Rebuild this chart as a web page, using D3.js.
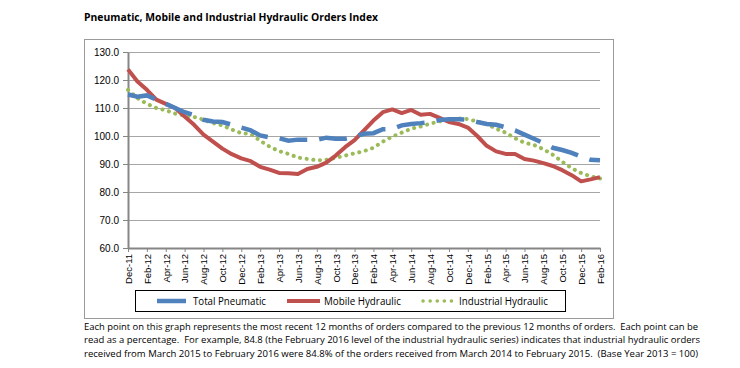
<!DOCTYPE html>
<html>
<head>
<meta charset="utf-8">
<script src="https://cdn.jsdelivr.net/npm/d3@7"></script>
<style>
  body { margin: 0; background: #fff; }
  svg { display: block; font-family: "Open Sans", "Liberation Sans", sans-serif; }
</style>
</head>
<body>
<div id="chart"></div>
<script>
// Data
var months = ['Dec-11','Jan-12','Feb-12','Mar-12','Apr-12','May-12','Jun-12','Jul-12','Aug-12','Sep-12','Oct-12','Nov-12',
  'Dec-12','Jan-13','Feb-13','Mar-13','Apr-13','May-13','Jun-13','Jul-13','Aug-13','Sep-13','Oct-13','Nov-13',
  'Dec-13','Jan-14','Feb-14','Mar-14','Apr-14','May-14','Jun-14','Jul-14','Aug-14','Sep-14','Oct-14','Nov-14',
  'Dec-14','Jan-15','Feb-15','Mar-15','Apr-15','May-15','Jun-15','Jul-15','Aug-15','Sep-15','Oct-15','Nov-15',
  'Dec-15','Jan-16','Feb-16'];

var xTickLabels = ['Dec-11','Feb-12','Apr-12','Jun-12','Aug-12','Oct-12','Dec-12','Feb-13','Apr-13','Jun-13','Aug-13',
  'Oct-13','Dec-13','Feb-14','Apr-14','Jun-14','Aug-14','Oct-14','Dec-14','Feb-15','Apr-15','Jun-15','Aug-15',
  'Oct-15','Dec-15','Feb-16'];

var yTicks = [60, 70, 80, 90, 100, 110, 120, 130];

var totalPneumatic = [114.8,114.0,114.5,113.0,111.5,110.0,108.5,107.5,105.8,105.2,105.0,104.0,
  103.0,102.0,100.2,99.5,99.2,98.3,98.7,98.7,98.6,99.4,99.0,99.0,
  99.8,100.8,101.0,102.4,102.5,103.8,104.3,104.6,105.0,105.7,106.0,106.0,
  105.8,105.0,104.3,104.0,103.1,102.0,100.5,99.0,97.5,95.8,95.0,94.0,
  92.6,91.5,91.3];

var mobileHydraulic = [123.8,119.5,116.5,113.0,111.5,110.0,107.0,104.0,100.5,98.0,95.5,93.5,
  92.0,91.0,89.0,88.0,86.8,86.7,86.4,88.2,89.0,90.5,93.0,96.0,
  98.5,102.0,105.5,108.5,109.5,108.2,109.3,107.6,107.9,106.5,105.0,104.3,
  103.0,100.0,96.5,94.5,93.6,93.6,91.8,91.2,90.3,89.3,87.8,86.0,
  83.8,84.5,85.3];

var industrialHydraulic = [116.5,113.5,111.5,110.0,109.2,108.0,107.2,106.8,105.8,104.6,103.8,102.3,
  101.0,100.7,98.3,96.2,94.6,93.6,92.3,91.8,91.3,91.5,92.2,93.0,
  93.8,94.6,95.8,98.0,99.8,101.2,102.6,103.4,104.4,105.2,105.8,106.3,
  106.0,105.2,104.3,102.6,101.2,99.2,97.6,96.8,95.3,93.3,90.8,88.5,
  86.8,85.6,84.8];

var seriesNames = ['Total Pneumatic', 'Mobile Hydraulic', 'Industrial Hydraulic'];

var captionLines = [
  'Each point on this graph represents the most recent 12 months of orders compared to the previous 12 months of orders.  Each point can be',
  'read as a percentage.  For example, 84.8 (the February 2016 level of the industrial hydraulic series) indicates that industrial hydraulic orders',
  'received from March 2015 to February 2016 were 84.8% of the orders received from March 2014 to February 2015.  (Base Year 2013 = 100)'
];

// SVG
var width = 740, height = 368;
var plot = { left: 128, right: 600, top: 52, bottom: 248 };

var svg = d3.select('#chart')
  .append('svg')
  .attr('width', width)
  .attr('height', height);

// Title
svg.append('text')
  .attr('x', 84)
  .attr('y', 21)
  .attr('textLength', 294)
  .attr('lengthAdjust', 'spacingAndGlyphs')
  .style('font-size', '11px')
  .style('font-weight', 'bold')
  .style('fill', '#000')
  .text('Pneumatic, Mobile and Industrial Hydraulic Orders Index');

// Chart frame
svg.append('rect')
  .attr('x', 84.5).attr('y', 39.5)
  .attr('width', 529).attr('height', 279)
  .attr('fill', 'none')
  .attr('stroke', '#9a9a9a')
  .attr('stroke-width', 1);

// Scales
var xScale = d3.scalePoint()
  .domain(months)
  .range([plot.left, plot.right]);

var yScale = d3.scaleLinear()
  .domain([60, 130])
  .range([plot.bottom, plot.top]);

// Gridlines
svg.append('g')
  .attr('transform', 'translate(' + plot.left + ',0)')
  .call(d3.axisLeft(yScale).tickValues(yTicks).tickSize(-(plot.right - plot.left)).tickFormat(''))
  .call(function(g) { g.select('.domain').remove(); })
  .selectAll('line')
  .attr('stroke', '#a6a6a6')
  .attr('stroke-width', 1);

// Y axis
var yAxis = svg.append('g')
  .attr('transform', 'translate(' + plot.left + ',0)')
  .call(d3.axisLeft(yScale).tickValues(yTicks).tickSize(5).tickSizeOuter(0).tickFormat(d3.format('.1f')));
yAxis.select('.domain').attr('stroke', '#868686').attr('stroke-width', 2);
yAxis.selectAll('line').attr('stroke', '#868686');
yAxis.selectAll('text')
  .attr('x', -9)
  .style('font-size', '10px')
  .style('fill', '#000');

// X axis
var xAxis = svg.append('g')
  .attr('transform', 'translate(0,' + plot.bottom + ')')
  .call(d3.axisBottom(xScale).tickValues(xTickLabels).tickSize(4).tickSizeOuter(0));
xAxis.select('.domain').attr('stroke', '#868686').attr('stroke-width', 2);
xAxis.selectAll('line').attr('stroke', '#868686');
xAxis.selectAll('text')
  .attr('transform', 'rotate(-90)')
  .attr('x', -6)
  .attr('y', 0)
  .attr('dy', '0.35em')
  .style('text-anchor', 'end')
  .style('font-size', '9.5px')
  .style('fill', '#000');

// Lines
var line = d3.line()
  .x(function(d, i) { return xScale(months[i]); })
  .y(function(d) { return yScale(d); });

svg.append('path')
  .datum(industrialHydraulic)
  .attr('d', line)
  .attr('fill', 'none')
  .attr('stroke', '#9bbb59')
  .attr('stroke-width', 4)
  .attr('stroke-linecap', 'round')
  .attr('stroke-dasharray', '0.1,6.6');

svg.append('path')
  .datum(mobileHydraulic)
  .attr('d', line)
  .attr('fill', 'none')
  .attr('stroke', '#c0504d')
  .attr('stroke-width', 4)
  .attr('stroke-linejoin', 'round');

svg.append('path')
  .datum(totalPneumatic)
  .attr('d', line)
  .attr('fill', 'none')
  .attr('stroke', '#4f81bd')
  .attr('stroke-width', 4.5)
  .attr('stroke-dasharray', '28,12');

// Legend
var legend = svg.append('g');
legend.append('rect')
  .attr('x', 135.5).attr('y', 290.5)
  .attr('width', 430).attr('height', 21)
  .attr('fill', '#fff')
  .attr('stroke', '#000')
  .attr('stroke-width', 1);

var legendItems = [
  { x: 157, len: 29, tx: 193, tw: 73, color: '#4f81bd', dash: null, width: 4.5 },
  { x: 287, len: 33, tx: 324, tw: 77, color: '#c0504d', dash: null, width: 4 },
  { x: 423, len: 31, tx: 459, tw: 89, color: '#9bbb59', dash: '0.1,7', width: 3.5 }
];

legendItems.forEach(function(item, i) {
  var ln = legend.append('line')
    .attr('x1', item.x).attr('x2', item.x + item.len)
    .attr('y1', 301).attr('y2', 301)
    .attr('stroke', item.color)
    .attr('stroke-width', item.width);
  if (item.dash) {
    ln.attr('stroke-dasharray', item.dash).attr('stroke-linecap', 'round');
  }
  legend.append('text')
    .attr('x', item.tx)
    .attr('y', 305)
    .attr('textLength', item.tw)
    .attr('lengthAdjust', 'spacingAndGlyphs')
    .style('font-size', '11px')
    .style('fill', '#000')
    .text(seriesNames[i]);
});

// Caption
svg.selectAll('.caption')
  .data(captionLines)
  .enter()
  .append('text')
  .attr('class', 'caption')
  .attr('x', 84)
  .attr('y', function(d, i) { return 330 + i * 13.3; })
  .attr('textLength', function(d, i) { return [614, 616, 614][i]; })
  .attr('lengthAdjust', 'spacingAndGlyphs')
  .attr('xml:space', 'preserve')
  .style('white-space', 'pre')
  .style('font-size', '9.5px')
  .style('fill', '#000')
  .text(function(d) { return d; });
</script>
</body>
</html>
